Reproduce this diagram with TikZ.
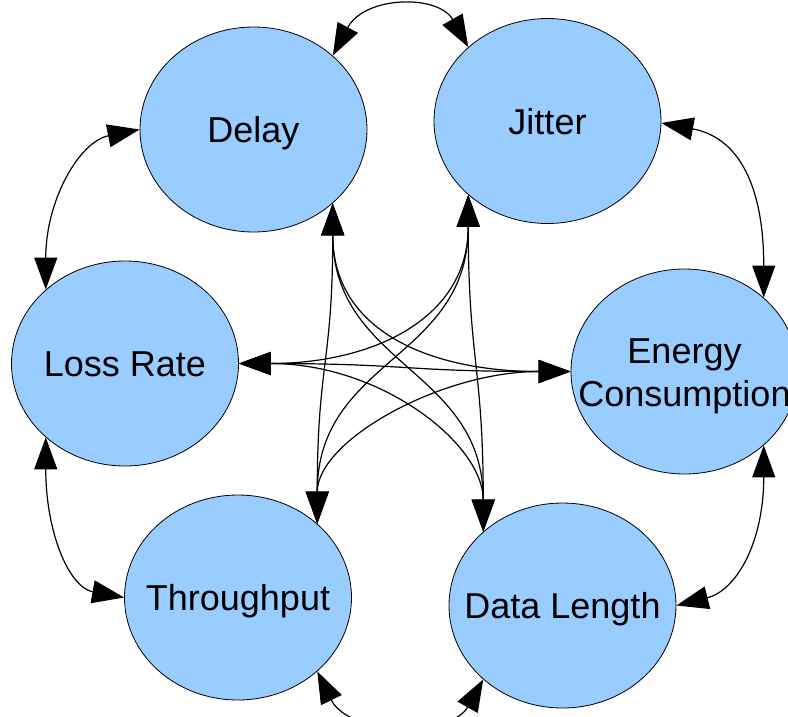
\documentclass[tikz,border=0pt]{standalone}
\usepackage{fontspec}
\setmainfont{Liberation Sans}
\usetikzlibrary{shapes.geometric,arrows.meta}
\definecolor{bubblefill}{RGB}{153,204,255}
\tikzset{
  bubble/.style={ellipse, draw=black, line width=0.8pt, fill=bubblefill,
    minimum width=227pt, minimum height=205pt, inner sep=0pt},
  lbl/.style={inner sep=0pt, text height=26pt, text depth=0pt,
    font=\fontsize{36}{43}\selectfont},
  link/.style={line width=1.2pt, {Triangle[length=32pt,width=23pt]}-{Triangle[length=32pt,width=23pt]}}
}
\begin{document}
\begin{tikzpicture}[x=1pt,y=-1pt]
\clip (0,0) rectangle (788,716);

% the six metrics
\node[bubble] (delay)   at (253.5,129.5) {};
\node[bubble] (jitter)  at (547.5,121)   {};
\node[bubble] (loss)    at (125,363.5)   {};
\node[bubble] (energy)  at (684.5,371.5) {};
\node[bubble] (thr)     at (238,597.5)   {};
\node[bubble] (dlen)    at (562.5,605.5) {};

\node[lbl] (tdelay)  at (delay)  {Delay};
\node[lbl] (tjitter) at (jitter) {Jitter};
\node[lbl] (tloss)   at (loss)   {Loss Rate};
\node[lbl] (tthr)    at (thr)    {Throughput};
\node[lbl] (tdlen)   at (dlen)   {Data Length};
\node[lbl] (tenergy) at ([yshift=21.5pt]energy.center) {Energy};
\node[lbl] (tcons)   at ([yshift=-21.5pt]energy.center) {Consumption};

% outer ring
\draw[link] (delay.43) .. controls +(32,-60) and +(-30,-53) .. (jitter.137);
\draw[link] (jitter.-1) .. controls +(80,15) and +(0,-107) .. (energy.43);
\draw[link] (energy.-43) .. controls +(0,97) and +(60,-15) .. (dlen.0);
\draw[link] (dlen.-137) .. controls +(-32,57) and +(32,65) .. (thr.-43);
\draw[link] (thr.180) .. controls +(-55,-10) and +(0,95) .. (loss.-137);
\draw[link] (loss.137) .. controls +(0,-90) and +(-60,12) .. (delay.180);

% inner links
\draw[link] (delay.-43) .. controls +(0,160) and +(0,-160) .. (thr.43);
\draw[link] (delay.-43) .. controls +(0,128) and +(-140,0) .. (energy.180);
\draw[link] (delay.-43) .. controls +(0,163) and +(0,-163) .. (dlen.137);
\draw[link] (jitter.-137) .. controls +(0,165) and +(0,-165) .. (dlen.137);
\draw[link] (jitter.-137) .. controls +(0,125) and +(132,0) .. (loss.0);
\draw[link] (jitter.-137) .. controls +(0,165) and +(0,-165) .. (thr.43);
\draw[link] (loss.0) .. controls +(166,0) and +(-166,0) .. (energy.180);
\draw[link] (loss.0) .. controls +(142,0) and +(0,-88) .. (dlen.137);
\draw[link] (energy.180) .. controls +(-130,0) and +(0,-83) .. (thr.43);
\end{tikzpicture}
\end{document}
